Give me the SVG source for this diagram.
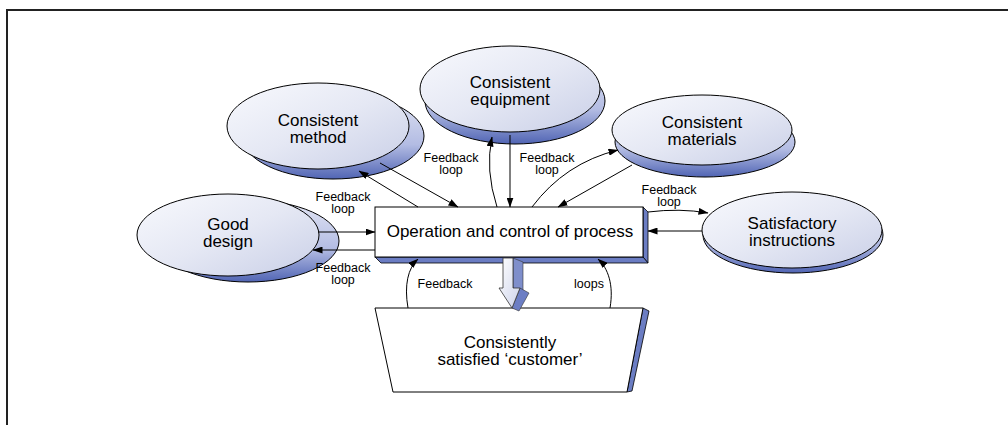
<svg xmlns="http://www.w3.org/2000/svg" width="1008" height="425" viewBox="0 0 1008 425">
<defs>
<linearGradient id="gFront" x1="0" y1="0" x2="1" y2="1">
<stop offset="0" stop-color="#f8f9fd"/>
<stop offset="0.5" stop-color="#e5e8f4"/>
<stop offset="1" stop-color="#c9cfe7"/>
</linearGradient>
<linearGradient id="gShadow" x1="0" y1="0" x2="0" y2="1">
<stop offset="0" stop-color="#e3e6f4"/>
<stop offset="0.6" stop-color="#b3bce3"/>
<stop offset="1" stop-color="#5165b4"/>
</linearGradient>
<linearGradient id="gArrow" x1="0" y1="0" x2="1" y2="1">
<stop offset="0" stop-color="#ffffff"/>
<stop offset="1" stop-color="#cdd3ea"/>
</linearGradient>
<marker id="ah" markerWidth="10" markerHeight="7" refX="9.5" refY="3.5" orient="auto" markerUnits="userSpaceOnUse">
<path d="M0,0 L10,3.5 L0,7 Z" fill="#000"/>
</marker>
<style>
.front{fill:url(#gFront);stroke:#000;stroke-width:1}
.shadow{fill:url(#gShadow);stroke:#000;stroke-width:1}
.side{fill:#6b7dc3;stroke:#000;stroke-width:0.8}
.box{fill:#fff;stroke:#000;stroke-width:1}
.node{font-family:"Liberation Sans",Arial,sans-serif;font-size:17px;fill:#000;text-anchor:middle}
.lbl{font-family:"Liberation Sans",Arial,sans-serif;font-size:12.5px;fill:#000;text-anchor:middle}
.con{fill:none;stroke:#000;stroke-width:1}
.arr{marker-end:url(#ah)}
</style>
</defs>
<rect width="1008" height="425" fill="#fff"/>
<path d="M7,425 V10 H1008" fill="none" stroke="#222" stroke-width="2"/>

<g id="good-design">
<ellipse class="shadow" cx="248" cy="241" rx="91" ry="41"/>
<ellipse class="front" cx="228" cy="235" rx="91" ry="41"/>
<text class="node" x="228" y="229.5"><tspan x="228">Good</tspan><tspan x="228" dy="17">design</tspan></text>
</g>

<g id="consistent-method">
<ellipse class="shadow" cx="333" cy="136" rx="91" ry="43"/>
<ellipse class="front" cx="318" cy="126" rx="91" ry="43"/>
<text class="node" x="318" y="125.5"><tspan x="318">Consistent</tspan><tspan x="318" dy="17">method</tspan></text>
</g>

<g id="consistent-equipment">
<ellipse class="shadow" cx="515" cy="101" rx="90" ry="43"/>
<ellipse class="front" cx="510" cy="89" rx="90" ry="43"/>
<text class="node" x="510" y="87.5"><tspan x="510">Consistent</tspan><tspan x="510" dy="17">equipment</tspan></text>
</g>

<g id="consistent-materials">
<ellipse class="shadow" cx="705" cy="142" rx="90" ry="35"/>
<ellipse class="front" cx="702" cy="130" rx="90" ry="35"/>
<text class="node" x="702" y="127.5"><tspan x="702">Consistent</tspan><tspan x="702" dy="17">materials</tspan></text>
</g>

<g id="satisfactory-instructions">
<ellipse class="shadow" cx="793" cy="235" rx="90" ry="38"/>
<ellipse class="front" cx="792" cy="230" rx="90" ry="38"/>
<text class="node" x="792" y="228.5"><tspan x="792">Satisfactory</tspan><tspan x="792" dy="17">instructions</tspan></text>
</g>

<g id="process">
<polygon class="side" points="643,207 648,212 648,263 643,257"/>
<polygon class="side" points="375,257 643,257 648,263 381,263"/>
<rect class="box" x="375" y="207" width="268" height="50"/>
<text class="node" x="510" y="237">Operation and control of process</text>
</g>

<g id="customer">
<polygon class="side" points="643,308 649,311 632,391 627,392"/>
<polygon class="box" points="375,308 643,308 627,392 393,392"/>
<text class="node" x="510" y="348"><tspan x="510">Consistently</tspan><tspan x="510" dy="17">satisfied ‘customer’</tspan></text>
</g>

<g id="output-arrow">
<polygon points="513,258 523,262 523,291 513,288" fill="#7e8ecb" stroke="#333" stroke-width="0.6"/>
<polygon points="520,288 529,293 519,311 512,308" fill="#6c7ec4" stroke="#333" stroke-width="0.6"/>
<polygon points="503,258 513,258 513,288 520,288 512,308 499,288 503,288" fill="url(#gArrow)" stroke="#333" stroke-width="0.8"/>
</g>

<g id="connectors">
<line class="con arr" x1="318" y1="232" x2="375" y2="232"/>
<line class="con arr" x1="375" y1="250" x2="313" y2="250"/>
<line class="con arr" x1="380" y1="163" x2="458" y2="207"/>
<line class="con arr" x1="418" y1="207" x2="359" y2="171"/>
<path class="con arr" d="M497,207 Q485,170 492,137"/>
<line class="con arr" x1="510" y1="135" x2="510" y2="207"/>
<path class="con arr" d="M532,207 Q565,163 618,150"/>
<line class="con arr" x1="632" y1="165" x2="558" y2="207"/>
<path class="con arr" d="M648,212 Q680,208 708,213"/>
<line class="con arr" x1="702" y1="231" x2="648" y2="231"/>
<path class="con arr" d="M408,308 C404,285 408,268 418,259"/>
<path class="con arr" d="M610,308 C614,285 608,268 598,259"/>
</g>

<g id="labels">
<text class="lbl" x="343" y="201"><tspan x="343">Feedback</tspan><tspan x="343" dy="12">loop</tspan></text>
<text class="lbl" x="343" y="272"><tspan x="343">Feedback</tspan><tspan x="343" dy="12">loop</tspan></text>
<text class="lbl" x="451" y="162"><tspan x="451">Feedback</tspan><tspan x="451" dy="12">loop</tspan></text>
<text class="lbl" x="547" y="162"><tspan x="547">Feedback</tspan><tspan x="547" dy="12">loop</tspan></text>
<text class="lbl" x="669" y="194"><tspan x="669">Feedback</tspan><tspan x="669" dy="12">loop</tspan></text>
<text class="lbl" x="445" y="288">Feedback</text>
<text class="lbl" x="589" y="288">loops</text>
</g>
</svg>
